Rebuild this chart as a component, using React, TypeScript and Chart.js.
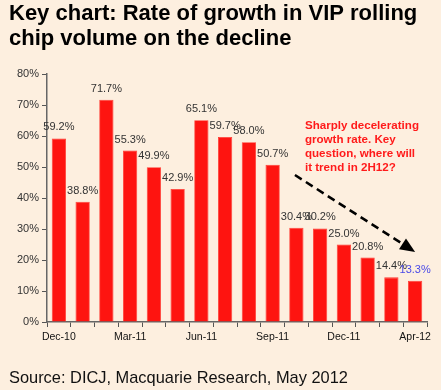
import { useEffect, useRef } from 'react';
import { Chart, registerables } from 'chart.js';

Chart.register(...registerables);

const categories = ['Dec-10', 'Jan-11', 'Feb-11', 'Mar-11', 'Apr-11', 'May-11', 'Jun-11', 'Jul-11', 'Aug-11', 'Sep-11', 'Oct-11', 'Nov-11', 'Dec-11', 'Jan-12', 'Feb-12', 'Apr-12'];
const growth = [59.2, 38.8, 71.7, 55.3, 49.9, 42.9, 65.1, 59.7, 58.0, 50.7, 30.4, 30.2, 25.0, 20.8, 14.4, 13.3];
const shownLabels = ['Dec-10', 'Mar-11', 'Jun-11', 'Sep-11', 'Dec-11', 'Apr-12'];
const titleLines = ['Key chart: Rate of growth in VIP rolling', 'chip volume on the decline'];
const sourceText = 'Source: DICJ, Macquarie Research, May 2012';
const noteLines = ['Sharply decelerating', 'growth rate. Key', 'question, where will', 'it trend in 2H12?'];
const notePos = [10.36, 62.3];
const arrowFrom = [9.94, 47.4];
const arrowTo = [15.0, 22.6];

const BG = '#fdefdf';
const FONT = '"Liberation Sans", Arial, sans-serif';

const overlay = {
  id: 'overlay',
  beforeDraw(chart: any) {
    const ctx = chart.ctx;
    ctx.save();
    ctx.fillStyle = BG;
    ctx.fillRect(0, 0, chart.width, chart.height);
    ctx.restore();
  },
  afterDatasetsDraw(chart: any) {
    const ctx = chart.ctx;
    const xs = chart.scales.x;
    const ys = chart.scales.y;
    ctx.save();
    // value labels
    const meta = chart.getDatasetMeta(0);
    ctx.font = `11px ${FONT}`;
    ctx.textAlign = 'center';
    ctx.textBaseline = 'alphabetic';
    meta.data.forEach((bar: any, i: number) => {
      ctx.fillStyle = i === growth.length - 1 ? '#4a4ae8' : '#333333';
      ctx.fillText(growth[i].toFixed(1) + '%', bar.x, bar.y - 8);
    });
    // note
    ctx.font = `bold 11.6px ${FONT}`;
    ctx.fillStyle = '#ff1a1a';
    ctx.textAlign = 'left';
    const nx = xs.getPixelForValue(notePos[0]);
    const ny = ys.getPixelForValue(notePos[1]);
    noteLines.forEach((l, i) => ctx.fillText(l, nx, ny + i * 14));
    // arrow
    const x1 = xs.getPixelForValue(arrowFrom[0]);
    const y1 = ys.getPixelForValue(arrowFrom[1]);
    const x2 = xs.getPixelForValue(arrowTo[0]);
    const y2 = ys.getPixelForValue(arrowTo[1]);
    const ang = Math.atan2(y2 - y1, x2 - x1);
    const headLen = 15;
    const headW = 6.5;
    const bx = x2 - headLen * Math.cos(ang);
    const by = y2 - headLen * Math.sin(ang);
    ctx.strokeStyle = '#000';
    ctx.lineWidth = 2.5;
    ctx.setLineDash([8, 5]);
    ctx.beginPath();
    ctx.moveTo(x1, y1);
    ctx.lineTo(bx, by);
    ctx.stroke();
    ctx.setLineDash([]);
    ctx.fillStyle = '#000';
    ctx.beginPath();
    ctx.moveTo(x2, y2);
    ctx.lineTo(bx + headW * Math.sin(ang), by - headW * Math.cos(ang));
    ctx.lineTo(bx - headW * Math.sin(ang), by + headW * Math.cos(ang));
    ctx.closePath();
    ctx.fill();
    // title
    ctx.fillStyle = '#000';
    ctx.font = `bold 22px ${FONT}`;
    ctx.fillText(titleLines[0], 9, 20);
    ctx.fillText(titleLines[1], 9, 45);
    // source
    ctx.fillStyle = '#111';
    ctx.font = `16.4px ${FONT}`;
    ctx.fillText(sourceText, 9, 383);
    ctx.restore();
  },
};

export default function App() {
  const ref = useRef<HTMLCanvasElement>(null);
  useEffect(() => {
    document.body.style.margin = '0';
    const chart = new Chart(ref.current as HTMLCanvasElement, {
      type: 'bar',
      data: {
        labels: categories,
        datasets: [
          {
            data: growth,
            backgroundColor: '#fe1410',
            borderColor: '#ff3a30',
            borderWidth: 0.8,
            barPercentage: 0.6,
            categoryPercentage: 1,
          },
        ],
      },
      options: {
        responsive: false,
        animation: false,
        layout: { padding: { top: 74, right: 14, bottom: 0, left: 0 } },
        plugins: { legend: { display: false }, tooltip: { enabled: false }, title: { display: false } },
        scales: {
          x: {
            afterFit: (s: any) => { s.height = 68; },
            border: { color: '#666', width: 1.5 },
            grid: { drawOnChartArea: false, tickLength: 5, color: '#555', offset: true },
            ticks: {
              autoSkip: false,
              maxRotation: 0,
              padding: 4,
              color: '#111',
              font: { family: FONT, size: 10.5 },
              callback: (_v: any, i: number) => (shownLabels.includes(categories[i]) ? categories[i] : ''),
            },
          },
          y: {
            min: 0,
            max: 80,
            afterFit: (s: any) => { s.width = 47; },
            border: { color: '#666', width: 1.5 },
            grid: { drawOnChartArea: false, tickLength: 5, color: '#555' },
            ticks: {
              stepSize: 10,
              padding: 3,
              color: '#333',
              font: { family: FONT, size: 11 },
              callback: (v: any) => v + '%',
            },
          },
        },
      },
      plugins: [overlay],
    });
    return () => chart.destroy();
  }, []);
  return <canvas ref={ref} width={441} height={390} style={{ display: 'block' }} />;
}
